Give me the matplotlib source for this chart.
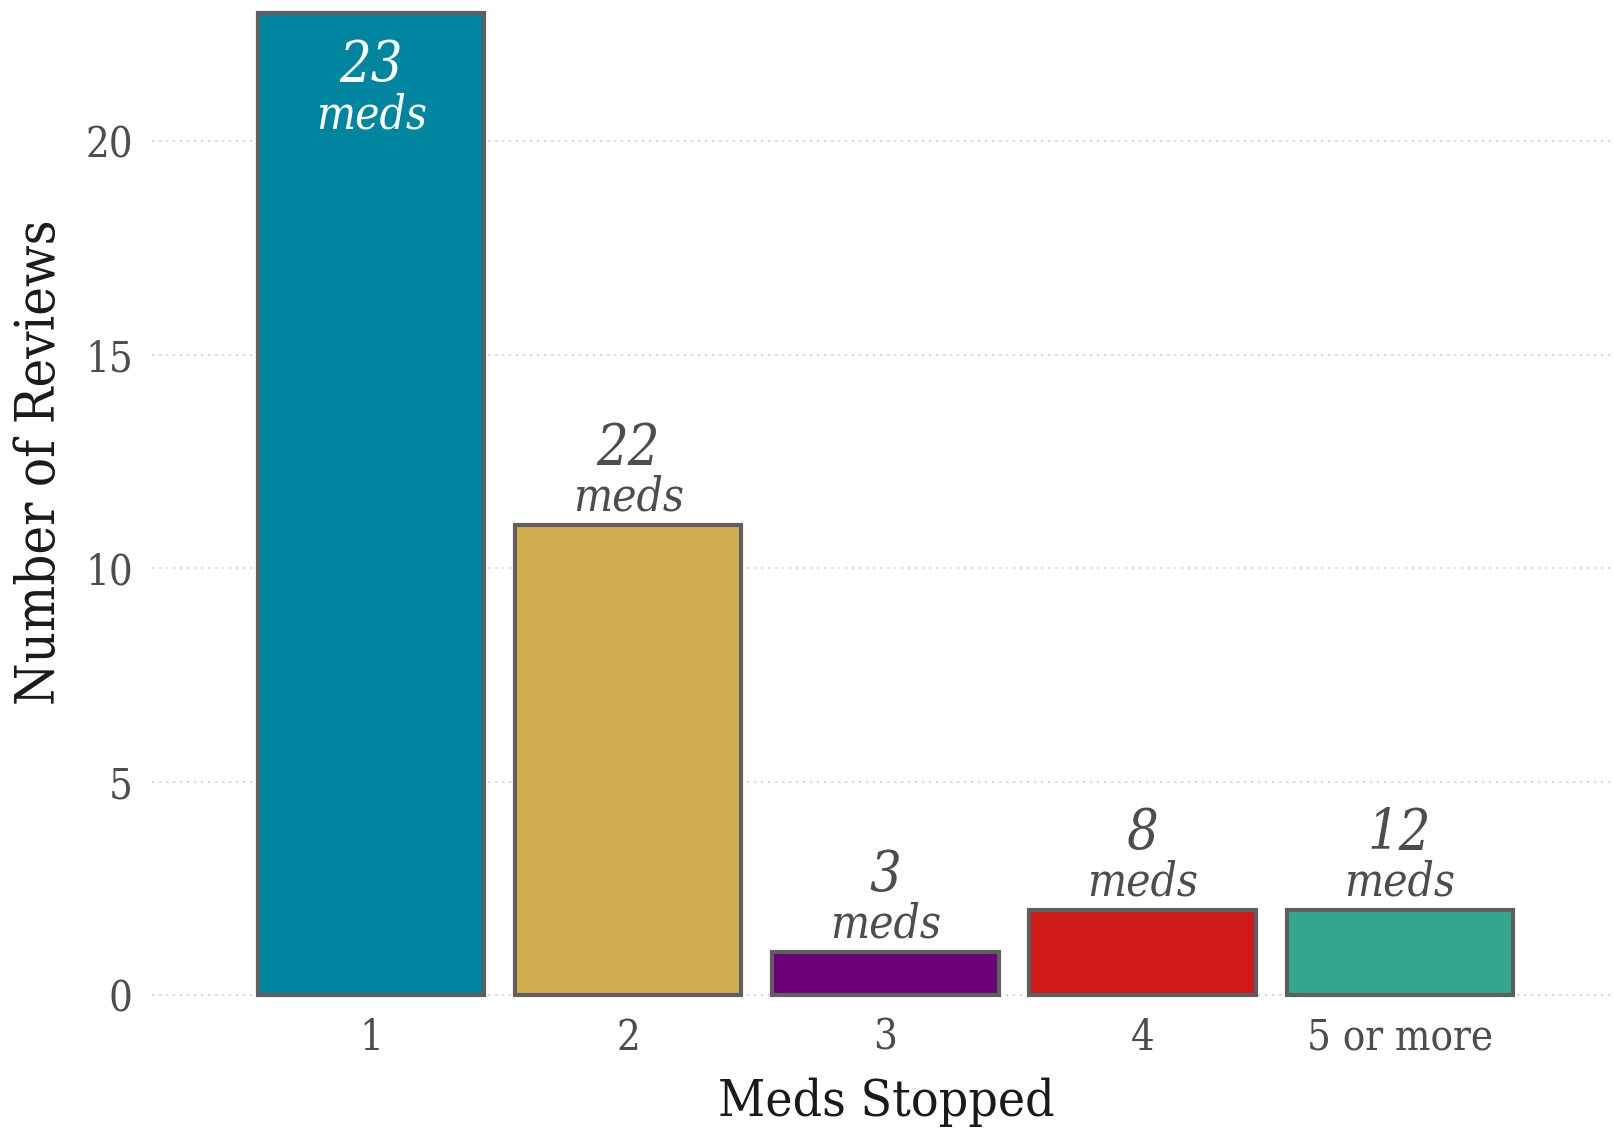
import matplotlib
matplotlib.use("Agg")
import matplotlib.pyplot as plt

# Data
categories = ["1", "2", "3", "4", "5 or more"]
reviews = [23, 11, 1, 2, 2]
meds_stopped = [23, 22, 3, 8, 12]
bar_colors = ["#0085A1", "#D1AF50", "#6B0078", "#D01A1A", "#34A58F"]

plt.rcParams["font.family"] = ["DejaVu Serif"]
plt.rcParams["font.stretch"] = "condensed"

fig = plt.figure(figsize=(16.13, 11.28), dpi=100)
ax = fig.add_axes([0.0944, 0.1084, 0.9056, 0.8856])

x = list(range(1, len(categories) + 1))
ax.bar(x, reviews, width=0.88, color=bar_colors, edgecolor="#5F5F5F",
       linewidth=3.0, zorder=3)

ax.set_xlim(1 - 0.852, 5 + 0.83)
ax.set_ylim(-0.25, 23.15)

# Labels: count of meds, inside the tallest bar, above the others
for xi, r, m in zip(x, reviews, meds_stopped):
    if r == max(reviews):
        col = "white"
        off_num, off_med = -49, -83
    else:
        col = "#4D4D4D"
        off_num, off_med = 44, 10.5
    ax.annotate(str(m), (xi, r), xytext=(0, off_num), textcoords="offset points",
                ha="center", va="baseline", fontsize=40, style="italic",
                color=col, zorder=4)
    ax.annotate("meds", (xi, r), xytext=(0, off_med), textcoords="offset points",
                ha="center", va="baseline", fontsize=33, style="italic",
                color=col, zorder=4)

ax.set_yticks([0, 5, 10, 15, 20])
ax.set_xticks(x)
ax.set_xticklabels(categories)
ax.tick_params(axis="both", length=0, labelsize=30, labelcolor="#4D4D4D")
ax.tick_params(axis="x", pad=8)
ax.tick_params(axis="y", pad=14)
ax.grid(axis="y", linestyle=(0, (1.2, 2.4)), color="#D9D9D9", linewidth=1.4, zorder=0)
for s in ax.spines.values():
    s.set_visible(False)

fig.text(0.5496, 0.0105, "Meds Stopped", ha="center", va="baseline",
         fontsize=37, color="#1A1A1A")
fig.text(0.025, 0.59, "Number of Reviews", ha="center", va="center",
         rotation=90, fontsize=39, color="#1A1A1A")

fig.savefig("out.png", dpi=100, facecolor="white")
